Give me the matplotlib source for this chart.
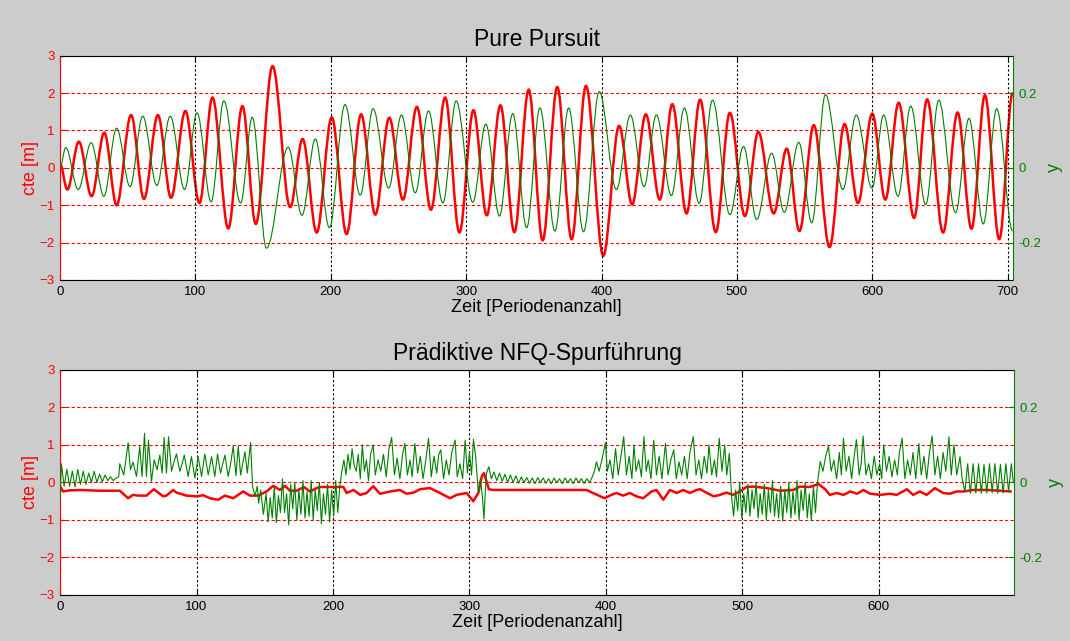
import matplotlib.pyplot as plt
from matplotlib.path import Path
from matplotlib.patches import PathPatch

RED = '#ff0000'
GREEN = '#008000'

# Pure Pursuit: turning points of the oscillation (time step, value)
pp_cte_t = [0, 5.4, 13.9, 23.3, 32.7, 41.8, 52.5, 62, 72.3, 82,
            92.6, 103, 112.6, 124.3, 134.7, 144.6, 157, 170, 179.2, 189.6,
            200.7, 211.7, 222.4, 232.9, 243.2, 253.3, 263.6, 274, 284.5, 295,
            305.4, 315.2, 325.3, 335.6, 346.2, 356.5, 367.3, 377.9, 388.5, 401.3,
            413, 422.6, 432.7, 443, 452.3, 462.8, 472.8, 484.4, 494.8, 505.9,
            515.8, 527.2, 536.8, 546.2, 556.8, 568.4, 579.5, 589.4, 600, 609.6,
            619.5, 630.9, 640.5, 652.3, 663, 673.3, 683.2, 693.8, 703.7]
pp_cte = [0.1, -0.58, 0.70, -0.76, 0.94, -1.0, 1.41, -0.83, 1.41, -0.80,
          1.52, -0.94, 1.88, -1.62, 1.65, -1.5, 2.72, -1.05, 0.77, -1.73,
          1.35, -1.77, 1.43, -1.25, 1.34, -0.85, 1.63, -1.12, 1.88, -1.73,
          1.54, -1.27, 1.67, -1.72, 2.09, -1.94, 2.16, -1.91, 2.19, -2.35,
          1.12, -0.98, 1.43, -0.85, 1.7, -1.22, 1.82, -1.72, 1.47, -1.29,
          0.96, -1.22, 0.51, -1.69, 1.14, -2.12, 1.17, -0.94, 1.45, -0.85,
          1.74, -1.34, 1.83, -1.73, 1.48, -1.63, 1.94, -1.91, 2.0]

pp_y_t = [0, 4.2, 13.4, 23, 32.4, 41.8, 51.7, 61.1, 71.5, 81.4,
          92, 101.2, 111.6, 121, 133.4, 142, 152.5, 168.6, 178.7, 188.6,
          199, 210.5, 221.8, 231.2, 242.8, 252.2, 262.4, 272.2, 282.8, 292.6,
          304.9, 314.5, 324.6, 334.4, 344.7, 354.5, 365.6, 375.7, 386.7, 398.3,
          411, 421.3, 431.4, 440.5, 451.6, 461.2, 472.1, 482, 494.8, 504.9,
          514.6, 525.7, 535, 545.7, 555.3, 565.4, 578.3, 588.1, 599.8, 608.4,
          619, 628.4, 639.5, 649.1, 661.5, 671.4, 682, 691.9, 703.7]
pp_y = [0.0, 0.054, -0.058, 0.067, -0.076, 0.106, -0.05, 0.138, -0.047, 0.138,
        -0.058, 0.147, -0.091, 0.179, -0.094, 0.135, -0.215, 0.055, -0.127, 0.077,
        -0.16, 0.169, -0.073, 0.158, -0.054, 0.141, -0.067, 0.152, -0.094, 0.179,
        -0.092, 0.117, -0.129, 0.145, -0.16, 0.16, -0.169, 0.16, -0.171, 0.204,
        -0.058, 0.141, -0.05, 0.141, -0.074, 0.16, -0.095, 0.181, -0.125, 0.057,
        -0.138, 0.039, -0.119, 0.068, -0.147, 0.196, -0.058, 0.141, -0.054, 0.141,
        -0.076, 0.165, -0.098, 0.181, -0.12, 0.132, -0.15, 0.158, -0.169]

# Praediktive NFQ-Spurfuehrung: (time step, cte [m])
nfq_cte_pts = [
    (0, -0.1), (2.2, -0.24), (7, -0.21), (14.4, -0.2), (29, -0.22), (43.8, -0.22),
    (49.9, -0.42), (53.5, -0.33), (57.2, -0.35), (63.3, -0.35), (68.7, -0.18),
    (75.6, -0.37), (78, -0.35), (82.9, -0.2), (85.3, -0.27), (92.7, -0.35),
    (100, -0.37), (104.9, -0.34), (109.8, -0.42), (115.9, -0.46), (120.8, -0.35),
    (126.9, -0.42), (134.2, -0.24), (139.1, -0.35), (145.2, -0.35), (151.3, -0.24),
    (156.2, -0.09), (161.1, -0.2), (164.8, -0.09), (168.5, -0.22), (173.3, -0.22),
    (178.7, -0.12), (183.1, -0.24), (188, -0.15), (190.5, -0.12), (200.2, -0.12),
    (207.6, -0.12), (210, -0.28), (215, -0.2), (220, -0.33), (224.6, -0.28),
    (229.5, -0.1), (234.4, -0.3), (241.8, -0.24), (249, -0.2), (254, -0.3),
    (259, -0.27), (263.7, -0.18), (271, -0.15), (278.4, -0.28), (285.7, -0.42),
    (290.6, -0.33), (297.9, -0.28), (302.8, -0.5), (306.5, -0.28), (309, 0.16),
    (310.6, 0.25), (312.5, 0.03), (314.2, -0.18), (317.3, -0.2), (385.7, -0.2),
    (390.5, -0.28), (399, -0.42), (404, -0.33), (407.7, -0.28), (412.6, -0.35),
    (417.5, -0.28), (422.4, -0.37), (427.3, -0.42), (433.4, -0.24), (437, -0.2),
    (442, -0.46), (446.8, -0.2), (451.7, -0.28), (456.6, -0.2), (461.5, -0.28),
    (466.4, -0.2), (469, -0.18), (474, -0.28), (479, -0.37), (483.5, -0.33),
    (488.4, -0.27), (493, -0.33), (498, -0.24), (503, -0.12), (508, -0.11),
    (518, -0.15), (527.6, -0.22), (537.4, -0.2), (542, -0.11), (549.6, -0.12),
    (555.7, -0.04), (560.6, -0.18), (564, -0.33), (569, -0.28), (574, -0.33),
    (579, -0.24), (584, -0.3), (588.7, -0.2), (593.6, -0.3), (601, -0.33),
    (608, -0.3), (613, -0.33), (620.5, -0.18), (625, -0.33), (630, -0.24),
    (635, -0.33), (641, -0.15), (647, -0.28), (652, -0.3), (657, -0.24),
    (662, -0.24), (669, -0.2), (679, -0.2), (689, -0.22), (696.5, -0.24)]

# Praediktive NFQ-Spurfuehrung: (time step, y)
nfq_y_pts = [
    (0, -0.05), (1, 0.05), (3, -0.01), (5, 0.035), (7, -0.01), (9, 0.03), (11, -0.012),
    (13, 0.035), (15, -0.005), (17, 0.03), (19, -0.005), (21, 0.025), (23, 0.0),
    (25, 0.03), (27, 0.0), (29, 0.022), (31, 0.002), (33, 0.02), (35, 0.005),
    (37, 0.015), (39, 0.005), (41, 0.012), (43, 0.015),
    (43.8, 0.05), (46.7, 0.02), (49.9, 0.106), (51.6, 0.034), (53.5, 0.054), (56, 0.016),
    (58.4, 0.096), (60.1, 0.016), (61.9, 0.131), (63.3, 0.016), (64.8, 0.113), (67, 0.003),
    (69, 0.06), (71.1, 0.034), (73.1, 0.073), (74.8, 0.025), (76.3, 0.12), (78, 0.025),
    (79.5, 0.122), (81.7, 0.03), (83.5, 0.055), (85.3, 0.076), (87.8, 0.03), (89.5, 0.05),
    (91, 0.073), (93.9, 0.016), (96.3, 0.069), (98.8, 0.012), (101.2, 0.069), (103.7, 0.016),
    (106.1, 0.076), (108.6, 0.02), (111, 0.069), (113.4, 0.016), (115.4, 0.076),
    (117.6, 0.025), (120.8, 0.073), (123.2, 0.016), (125, 0.05), (126.9, 0.097),
    (128.9, 0.018), (130.6, 0.097), (132.3, 0.02), (135.5, 0.082), (137.2, 0.025),
    (139.6, 0.107), (141.1, -0.01), (142.8, -0.037), (144.5, -0.01),
    (145.5, -0.055), (147, -0.02), (149, -0.085), (151, -0.03), (152.5, -0.105),
    (154, -0.04), (155.5, -0.095), (157, -0.01), (158.5, -0.107), (160, -0.035),
    (161.5, -0.08), (163, 0.01), (164.5, -0.08), (166, -0.03), (167.5, -0.113),
    (169, -0.005), (170.5, -0.07), (172, 0.0), (173.5, -0.1), (175, -0.02),
    (176.5, -0.085), (178, 0.005), (179.5, -0.095), (181, -0.025), (182.5, -0.09),
    (184, 0.005), (185.5, -0.1), (187, -0.02), (188.5, -0.075), (190, 0.0),
    (191.5, -0.11), (193, -0.03), (194.5, -0.085), (196, -0.005), (197.5, -0.105),
    (199, -0.02), (200.5, -0.09), (202, 0.005), (203.5, -0.08), (205, -0.01),
    (206.5, 0.03), (208, 0.06), (209.5, 0.02), (211, 0.075), (212.5, 0.035), (214, 0.09),
    (215.5, 0.045), (217, 0.03), (218.5, 0.075), (220, 0.01), (221.5, 0.1), (223, 0.03),
    (224.5, 0.06), (226, 0.005), (227.5, 0.075), (229.5, 0.1), (231, 0.02), (233, 0.06),
    (235, 0.03), (237, 0.075), (239, 0.015), (241, 0.09), (243, 0.12), (245, 0.02),
    (247, 0.065), (249, 0.01), (251, 0.075), (252.7, 0.104), (254.5, 0.02), (256.5, 0.06),
    (258, 0.015), (260, 0.104), (262, 0.025), (264, 0.07), (266, 0.01), (268, 0.06),
    (270, 0.118), (272, 0.015), (274, 0.07), (276, 0.025), (277.5, 0.075), (279, 0.087),
    (281, 0.01), (283, 0.06), (285, 0.02), (287, 0.08), (289.5, 0.113), (291, 0.015),
    (293, 0.05), (295, 0.01), (296.8, 0.113), (298.5, 0.025), (300, 0.08), (301.5, 0.02),
    (302.9, 0.115), (304.5, 0.07), (306.5, -0.028),
    (308, 0.01), (309.5, -0.04), (310.6, -0.097), (311.5, -0.03), (312.5, 0.025),
    (314.2, 0.042), (316, 0.01), (318, 0.028), (320, 0.005), (322, 0.025), (324, 0.003),
    (326, 0.022), (328, 0.0), (330, 0.02), (332, 0.0), (334, 0.018), (336, -0.002),
    (338, 0.015), (340, 0.0), (342, 0.013), (344, -0.002), (346, 0.012), (348, -0.003),
    (350, 0.013), (352, 0.0), (354, 0.012), (356, -0.002), (358, 0.01), (360, -0.003),
    (362, 0.012), (364, 0.0), (366, 0.01), (368, -0.003), (370, 0.012), (372, 0.0),
    (374, 0.01), (376, -0.003), (378, 0.012), (380, 0.0), (382, 0.01), (384, -0.003),
    (386, 0.01), (388, 0.0), (390, 0.015),
    (391.5, 0.03), (393, 0.055), (395, 0.03), (397, 0.06), (399.6, 0.106), (401, 0.03),
    (403, 0.06), (405, 0.01), (407, 0.09), (409, 0.02), (411, 0.07), (413, 0.122),
    (415, 0.02), (417, 0.07), (419, 0.01), (420.5, 0.1), (422, 0.03), (424, 0.06),
    (426, 0.015), (427.8, 0.122), (429.5, 0.03), (431, 0.06), (433, 0.01), (435, 0.113),
    (437, 0.02), (439, 0.07), (441, 0.01), (443.6, 0.104), (445.5, 0.02), (447.5, 0.06),
    (449.7, 0.087), (451.5, 0.01), (453.5, 0.055), (455.5, 0.02), (457.5, 0.07),
    (459.5, 0.01), (461.5, 0.08), (464, 0.122), (466, 0.02), (468, 0.06), (470, 0.01),
    (472, 0.07), (474, 0.025), (475.5, 0.1), (477.5, 0.02), (479.5, 0.06), (481, 0.015),
    (483, 0.118), (485, 0.03), (487, 0.1), (488.5, 0.02), (490.4, 0.078),
    (492, -0.037), (493.5, -0.09), (495, -0.02), (496.5, -0.075), (498, 0.0),
    (499.5, -0.095), (501, -0.03), (502.5, -0.08), (504, -0.005), (505.5, -0.09),
    (507, -0.02), (508.5, -0.07), (510, 0.0), (511.5, -0.095), (513, -0.03),
    (514.5, -0.085), (516, -0.005), (517.5, -0.1), (519, -0.02), (520.5, -0.08),
    (522, 0.005), (523.5, -0.09), (525, -0.03), (526.5, -0.095), (528, -0.01),
    (529.5, -0.103), (531, -0.02), (532.5, -0.08), (534, 0.0), (535.5, -0.095),
    (537, -0.025), (538.5, -0.085), (540, 0.005), (541.5, -0.1), (543, -0.02),
    (544.5, -0.075), (546, 0.0), (547.5, -0.095), (549, -0.03), (550.5, -0.102),
    (552, -0.01), (553.5, -0.08), (555, 0.0),
    (557, 0.056), (559, 0.03), (561, 0.07), (563, 0.097), (565, 0.03), (567, 0.06),
    (569, 0.01), (571, 0.08), (572.5, 0.02), (574, 0.118), (576, 0.03), (578, 0.07),
    (580, 0.01), (581.5, 0.06), (583.5, 0.114), (585.5, 0.02), (587, 0.05), (588.4, 0.124),
    (590.5, 0.02), (592.5, 0.05), (594.5, 0.01), (596.5, 0.07), (598.5, 0.02),
    (600.5, 0.05), (602, 0.01), (603.5, 0.1), (605.5, 0.03), (607.5, 0.07), (609.5, 0.015),
    (611.5, 0.06), (613.5, 0.02), (615, 0.08), (617, 0.118), (619, 0.01), (621, 0.06),
    (623, 0.02), (625, 0.08), (627, 0.01), (629.2, 0.104), (631, 0.02), (633, 0.07),
    (635, 0.01), (637, 0.08), (639, 0.124), (641, 0.02), (643, 0.07), (645, 0.01),
    (647, 0.08), (649, 0.03), (651.3, 0.122), (653, 0.02), (655, 0.1), (657, 0.02),
    (659.4, 0.069), (661, 0.01),
    (663, -0.025), (665, 0.05), (667, -0.029), (669, 0.05), (671, -0.028), (673, 0.05),
    (675, -0.029), (677, 0.048), (679, -0.028), (681, 0.05), (683, -0.027), (685, 0.05),
    (687, -0.029), (689, 0.048), (691, -0.028), (693, 0.05), (695, -0.025), (697, 0.05),
    (698.5, 0.0)]

cte_ticks = [-3, -2, -1, 0, 1, 2, 3]
y_ticks = [-0.2, 0, 0.2]
y_ticklabels = ['-0.2', '0', '0.2']

plt.rcParams['font.family'] = ['Liberation Sans', 'DejaVu Sans']


def smooth_line(ax, t, v, **kw):
    # cubic pieces between turning points, flat tangent at each one
    verts = [(t[0], v[0])]
    codes = [Path.MOVETO]
    for i in range(1, len(t)):
        d = 0.36 * (t[i] - t[i - 1])
        verts += [(t[i - 1] + d, v[i - 1]), (t[i] - d, v[i]), (t[i], v[i])]
        codes += [Path.CURVE4] * 3
    ax.add_patch(PathPatch(Path(verts, codes), fill=False, **kw))


def setup(ax, ax2, xmax, title):
    ax.set_xlim(0, xmax)
    ax.set_ylim(-3, 3)
    ax2.set_ylim(-0.3, 0.3)
    ax.set_xticks(range(0, xmax + 1, 100))
    ax.set_yticks(cte_ticks)
    ax2.set_yticks(y_ticks)
    ax2.set_yticklabels(y_ticklabels)
    ax.yaxis.grid(True, color=RED, linestyle=(0, (3, 2)), linewidth=0.8)
    ax.xaxis.grid(True, color='black', linestyle=(0, (2, 2)), linewidth=0.8)
    ax.tick_params(axis='x', direction='in', length=4, labelsize=9.5, top=True,
                   colors='black', pad=4)
    ax.tick_params(axis='y', direction='in', length=4, labelsize=9.5, colors=RED, pad=4)
    ax2.tick_params(axis='y', direction='in', length=4, labelsize=9.5, colors=GREEN, pad=4)
    ax.spines['left'].set_color(RED)
    ax.spines['right'].set_visible(False)
    for s in ['left', 'top', 'bottom']:
        ax2.spines[s].set_visible(False)
    ax2.spines['right'].set_color(GREEN)
    ax.set_title(title, fontsize=16.5, pad=7)
    ax.set_xlabel('Zeit [Periodenanzahl]', fontsize=13, labelpad=1)
    ax.set_ylabel('cte [m]', fontsize=13, color=RED, labelpad=0)
    ax2.set_ylabel('y', fontsize=13, color=GREEN, labelpad=3)


fig = plt.figure(figsize=(10.7, 6.41), dpi=100, facecolor='#cccccc')

ax_top = fig.add_axes([0.0561, 0.5632, 0.8907, 0.350])
ax_top2 = ax_top.twinx()
setup(ax_top, ax_top2, 704, 'Pure Pursuit')
smooth_line(ax_top, pp_cte_t, pp_cte, edgecolor=RED, linewidth=1.8)
smooth_line(ax_top2, pp_y_t, pp_y, edgecolor=GREEN, linewidth=0.8)

ax_bot = fig.add_axes([0.0561, 0.0718, 0.8916, 0.351])
ax_bot2 = ax_bot.twinx()
setup(ax_bot, ax_bot2, 699, 'Prädiktive NFQ-Spurführung')
ax_bot.plot([p[0] for p in nfq_cte_pts], [p[1] for p in nfq_cte_pts],
            color=RED, linewidth=1.8)
ax_bot2.plot([p[0] for p in nfq_y_pts], [p[1] for p in nfq_y_pts],
             color=GREEN, linewidth=0.8)

fig.savefig('out.png', dpi=100, facecolor=fig.get_facecolor())
